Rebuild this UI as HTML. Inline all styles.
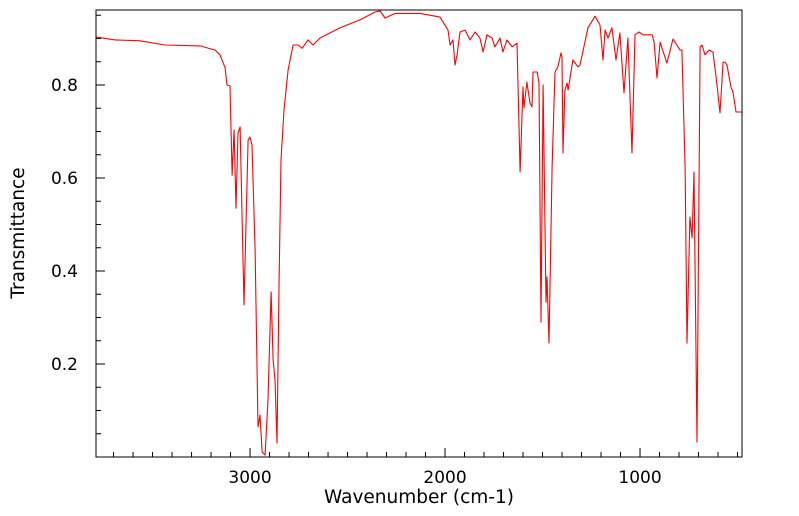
<!DOCTYPE html>
<html><head><meta charset="utf-8"><style>
html,body{margin:0;padding:0;background:#fff;width:799px;height:516px;overflow:hidden}
svg text{font-family:"DejaVu Sans","Liberation Sans",sans-serif;fill:#000}
</style></head><body>
<svg id="chart" width="799" height="516" xmlns="http://www.w3.org/2000/svg">
<g id="ticks"></g>
<path id="spec" fill="none" stroke="#ff0000" stroke-width="1.1" stroke-linejoin="round"></path>
<rect x="96" y="10" width="646" height="447" fill="none" stroke="#000" stroke-width="1"/>
<g id="labels"></g>
<text x="419" y="503" font-size="18.5" text-anchor="middle">Wavenumber (cm-1)</text>
<text transform="translate(24,233) rotate(-90)" font-size="18.5" text-anchor="middle">Transmittance</text>
</svg>
<script>
const wavenumbers=[3790,3692,3564,3436,3256,3179,3154,3128,3118,3103,3092,3082,3072,3062,3051,3031,3010,3000,2990,2974,2959,2949,2938,2923,2908,2892,2882,2872,2862,2851,2841,2826,2805,2779,2754,2733,2703,2677,2641,2538,2436,2359,2333,2308,2256,2128,2026,1985,1974,1959,1949,1938,1923,1897,1872,1846,1821,1805,1785,1759,1744,1718,1703,1682,1656,1631,1615,1600,1595,1580,1564,1554,1549,1528,1518,1508,1497,1482,1477,1467,1451,1436,1421,1405,1400,1395,1385,1374,1369,1354,1344,1333,1318,1308,1267,1231,1205,1190,1179,1164,1144,1123,1103,1082,1062,1041,1026,1005,985,938,928,913,897,862,831,795,785,769,759,744,733,723,708,692,682,667,646,626,610,590,574,564,554,533,523,508,477];
const transmittance=[0.903,0.897,0.895,0.886,0.884,0.875,0.865,0.837,0.800,0.798,0.606,0.703,0.535,0.697,0.710,0.327,0.682,0.688,0.671,0.445,0.065,0.090,0.011,0.004,0.123,0.355,0.209,0.166,0.030,0.381,0.639,0.746,0.832,0.886,0.886,0.879,0.897,0.886,0.901,0.923,0.940,0.957,0.959,0.944,0.954,0.954,0.946,0.918,0.886,0.897,0.843,0.865,0.914,0.918,0.897,0.914,0.901,0.871,0.908,0.901,0.882,0.901,0.871,0.897,0.882,0.890,0.613,0.796,0.751,0.806,0.761,0.753,0.828,0.828,0.804,0.290,0.800,0.333,0.387,0.245,0.624,0.828,0.839,0.869,0.860,0.654,0.789,0.804,0.789,0.828,0.854,0.847,0.839,0.843,0.923,0.948,0.929,0.854,0.918,0.901,0.923,0.854,0.912,0.783,0.901,0.654,0.908,0.914,0.908,0.908,0.892,0.815,0.892,0.847,0.899,0.875,0.875,0.624,0.245,0.516,0.471,0.613,0.032,0.882,0.886,0.865,0.875,0.871,0.817,0.740,0.849,0.849,0.843,0.794,0.785,0.742,0.742];
const xTicks=[3000,2000,1000];
const yTicks=[0.2,0.4,0.6,0.8];
const L=96,R=742,T=10,B=457;
const W0=3790,W1=477;
function xs(w){return L+(W0-w)/(W0-W1)*(R-L);}
function ys(t){return B-t*465;}
const NS="http://www.w3.org/2000/svg";
let d="";
for(let i=0;i<wavenumbers.length;i++){d+=(i?"L":"M")+xs(wavenumbers[i]).toFixed(1)+","+Math.max(T,Math.min(B,ys(transmittance[i]))).toFixed(1);}
document.getElementById("spec").setAttribute("d",d);
const tg=document.getElementById("ticks"),lg=document.getElementById("labels");
function line(x1,y1,x2,y2){const l=document.createElementNS(NS,"line");l.setAttribute("x1",x1);l.setAttribute("y1",y1);l.setAttribute("x2",x2);l.setAttribute("y2",y2);l.setAttribute("stroke","#000");


tg.appendChild(l);}
for(let w=3700;w>=500;w-=100){const x=xs(w);const major=w%1000===0;line(x,B,x,B-(major?9:5));}
for(let v=0.05;v<0.96;v+=0.05){const y=ys(v);const major=Math.abs(v*10-Math.round(v*10))<0.01&&Math.round(v*10)%2===0;line(L,y,L+(major?9:5),y);}
xTicks.forEach(w=>{const t=document.createElementNS(NS,"text");t.setAttribute("x",xs(w));t.setAttribute("y",483);t.setAttribute("font-size","17");t.setAttribute("text-anchor","middle");t.textContent=w;


lg.appendChild(t);});
yTicks.forEach(v=>{const t=document.createElementNS(NS,"text");t.setAttribute("x",78);t.setAttribute("y",ys(v)+6);t.setAttribute("font-size","17");t.setAttribute("text-anchor","end");t.textContent=v.toFixed(1);


lg.appendChild(t);});
</script>
</body></html>
